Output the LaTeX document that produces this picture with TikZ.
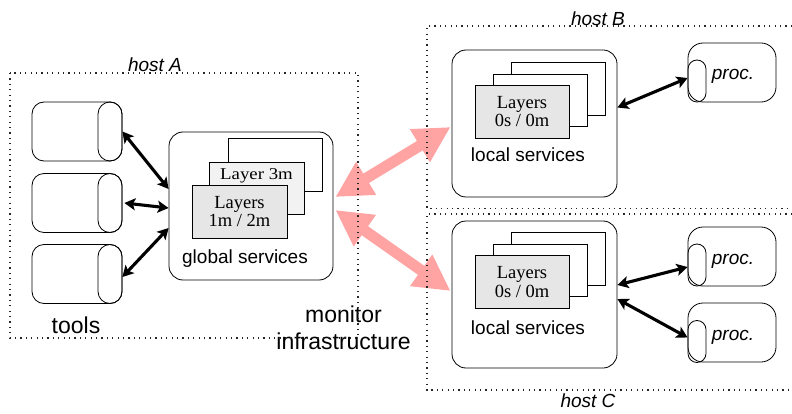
\documentclass[tikz,border=0pt]{standalone}
\usepackage{fontspec}
\usepackage{graphicx}
\setmainfont{Liberation Serif}
\setsansfont{Liberation Sans}
\usetikzlibrary{arrows.meta}
\definecolor{linkpink}{HTML}{FFA3A3}
\definecolor{layergray}{HTML}{E6E6E6}
\definecolor{layerlight}{HTML}{F2F2F2}

\begin{document}
\begin{tikzpicture}[x=1pt,y=-1pt,
  hostbox/.style={draw=black!85, line width=1.2pt, dash pattern=on 1.2pt off 4.2pt},
  hostlabel/.style={font=\fontsize{19}{22}\selectfont\sffamily\itshape, anchor=base, inner sep=0pt},
  sanslabel/.style={font=\fontsize{19}{22}\selectfont\sffamily, anchor=base, inner sep=0pt},
  biglabel/.style={font=\fontsize{23}{27}\selectfont\sffamily, anchor=base, inner sep=0pt},
  svcbox/.style={draw, line width=0.8pt, rounded corners=14pt, fill=white, inner sep=0pt,
    minimum width=165pt, minimum height=147pt},
  sheet/.style={draw, line width=0.8pt, fill=white, inner sep=0pt,
    minimum width=94pt, minimum height=53pt},
  frontsheet/.style={sheet, fill=layergray, align=center,
    font=\fontsize{18.5}{18.5}\selectfont\rmfamily},
  toolbody/.style={draw, line width=0.8pt, rounded corners=12pt, inner sep=0pt,
    minimum width=90pt, minimum height=59pt},
  toolcap/.style={draw, line width=0.8pt, rounded corners=12pt, inner sep=0pt,
    minimum width=24pt, minimum height=59pt},
  procbody/.style={draw, line width=0.8pt, rounded corners=15pt, inner sep=0pt,
    minimum width=88pt, minimum height=59pt},
  proccap/.style={draw, line width=0.8pt, rounded corners=9pt, inner sep=0pt,
    minimum width=18pt, minimum height=42pt},
  proclabel/.style={font=\fontsize{19}{22}\selectfont\sffamily\itshape, anchor=base, inner sep=0pt},
  biarrow/.style={draw, line width=3.1pt,
    {Stealth[length=11pt,width=12pt,inset=2.5pt]}-{Stealth[length=11pt,width=12pt,inset=2.5pt]}},
  linkarrow/.style={draw=linkpink, line width=11pt,
    {Triangle[length=36pt,width=36pt,fill=linkpink]}-{Triangle[length=36pt,width=36pt,fill=linkpink]}}
]
\useasboundingbox (0,0) rectangle (792,414);

% ---------- host A: tools and global services ----------
\foreach \n/\y in {1/131.5, 2/203, 3/274}{
  \node[toolbody] (tool\n) at (77,\y) {};
  \node[toolcap] (tool\n cap) at (110,\y) {};
}
\node[biglabel] (toolslbl) at (76,333) {tools};

\node[svcbox, minimum width=164pt, minimum height=148pt] (gs) at (251,206) {};
\node[sheet] (gsback) at (275,164.5) {};
\node[sheet, fill=layerlight, minimum width=95pt, minimum height=52pt] (gsmid) at (256.5,188) {};
\node[font=\fontsize{16.5}{16.5}\selectfont\rmfamily, anchor=base, inner sep=0pt] (gsmidtxt)
  at (256.5,180) {\scalebox{1.14}[1]{Layer 3m}};
\node[frontsheet, minimum width=95pt] (gsfront) at (239.5,211.5) {Layers\\1m / 2m};
\node[sanslabel] (gslbl) at (245,263) {global services};

\draw[biarrow] (tool1.east) -- ([yshift=17pt]gs.west);
\draw[biarrow] ([xshift=2pt]tool2.east) -- ([yshift=-2pt]gs.west);
\draw[biarrow] ([yshift=-3pt]tool3.east) -- ([yshift=-22pt]gs.west);

% ---------- host B: local services and one process ----------
\node[svcbox] (lsB) at (534.5,123.5) {};
\node[sheet] (lsBback) at (558,88.5) {};
\node[sheet, minimum height=52pt] (lsBmid) at (540,100) {};
\node[frontsheet] (lsBfront) at (522,111.5) {Layers\\0s / 0m};
\node[sanslabel] (lsBlbl) at (528,162) {local services};

\node[procbody] (procB) at (732,72.5) {};
\node[proccap] (procBcap) at (697,81) {};
\node[proclabel] (procBlbl) at (733,79.5) {proc.};
\draw[biarrow] ([yshift=16pt]lsB.east) -- ([yshift=3pt]procBcap.west);

% ---------- host C: local services and two processes ----------
\node[svcbox] (lsC) at (534.5,294.5) {};
\node[sheet] (lsCback) at (558,258.5) {};
\node[sheet, minimum height=52pt] (lsCmid) at (540,270.5) {};
\node[frontsheet] (lsCfront) at (522,282) {Layers\\0s / 0m};
\node[sanslabel] (lsClbl) at (528,334) {local services};

\node[procbody] (procC1) at (732,256.5) {};
\node[proccap] (procC1cap) at (697,265) {};
\node[proclabel] (procC1lbl) at (733,264) {proc.};
\node[procbody] (procC2) at (732,332.5) {};
\node[proccap] (procC2cap) at (697,341.5) {};
\node[proclabel] (procC2lbl) at (733,340) {proc.};
\draw[biarrow] ([yshift=9.5pt]lsC.east) -- ([yshift=-2pt]procC1cap.west);
\draw[biarrow] ([yshift=-4.5pt]lsC.east) -- ([yshift=4pt]procC2cap.west);

% ---------- monitor links between hosts ----------
\path[linkarrow] ([xshift=2pt,yshift=9pt]gs.east) -- ([xshift=-1pt,yshift=-3.5pt]lsB.west);
\path[linkarrow] ([xshift=2pt,yshift=-4pt]gs.east) -- ([xshift=-1pt,yshift=3.5pt]lsC.west);

\node[biglabel] (mon1) at (343.5,322) {monitor};
\node[biglabel] (mon2) at (343.5,349) {infrastructure};

% ---------- host outlines ----------
\draw[hostbox] (10,73) rectangle (358,338);
\draw[hostbox] (792,26) -- (427,26) -- (427,208.5) -- (792,208.5);
\draw[hostbox] (792,214) -- (427,214) -- (427,390) -- (792,390);
\node[hostlabel] (hostA) at (155,72) {host A};
\node[hostlabel] (hostB) at (598,25.5) {host B};
\node[hostlabel] (hostC) at (588,407) {host C};
\end{tikzpicture}
\end{document}
